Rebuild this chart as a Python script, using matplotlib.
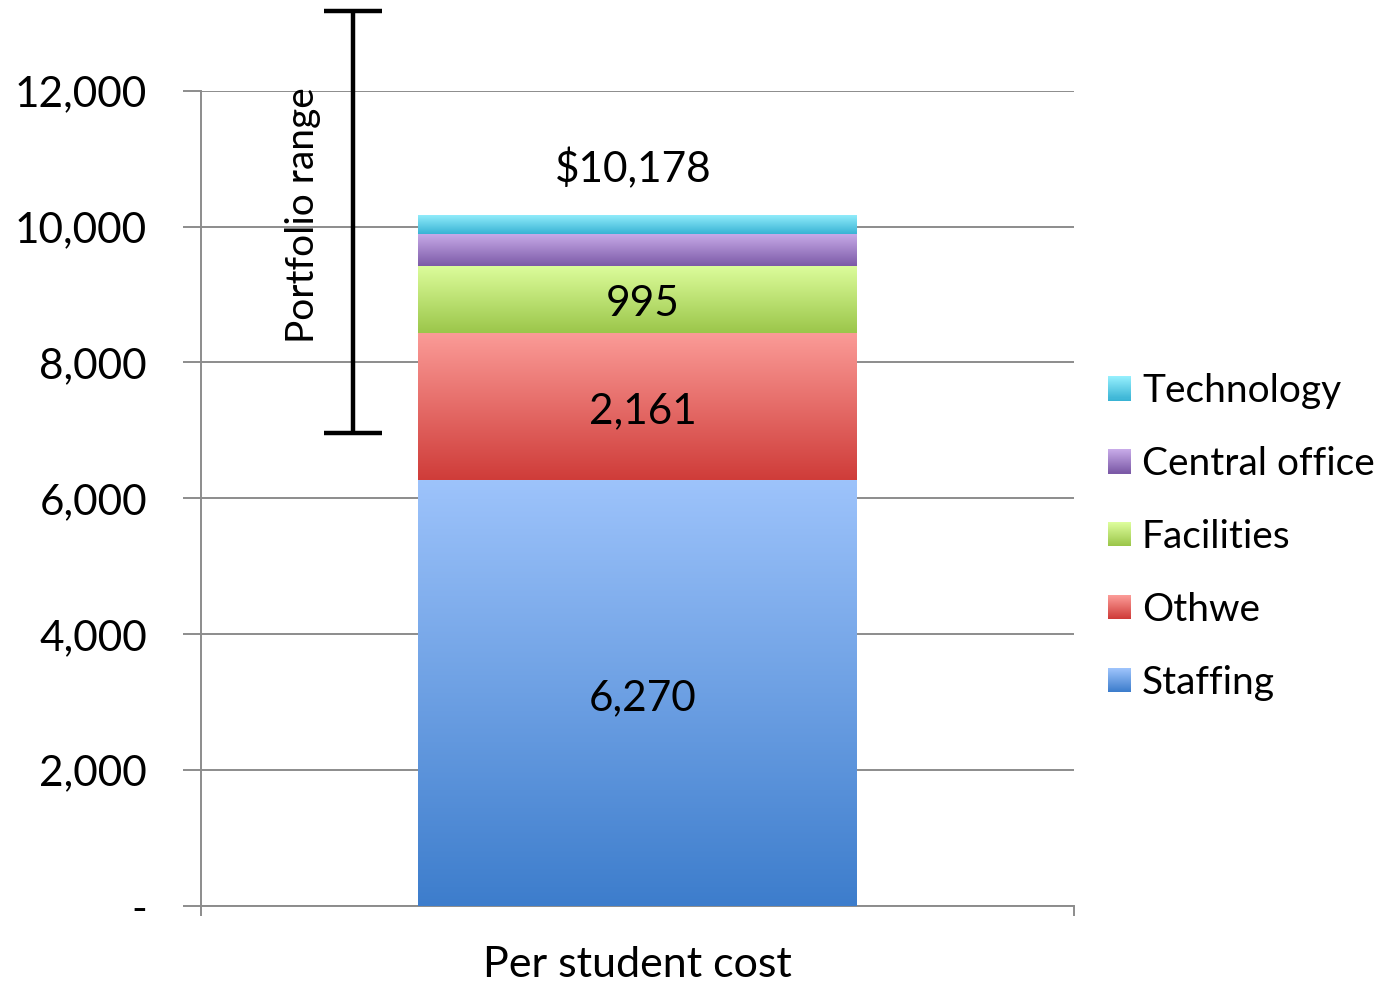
import numpy as np
import matplotlib
matplotlib.use("Agg")
import matplotlib.pyplot as plt
from matplotlib.colors import LinearSegmentedColormap
from matplotlib.legend_handler import HandlerBase
from matplotlib.patches import Rectangle

plt.rcParams["font.family"] = ["Lato", "DejaVu Sans"]

# ── Data ──────────────────────────────────────────────────────────────────
category = ["Per student cost"]
segments = ["Staffing", "Othwe", "Facilities", "Central office", "Technology"]
values = [6270, 2161, 995, 470, 282]
shown_labels = ["6,270", "2,161", "995", "", ""]
total_label = "$10,178"
range_low, range_high = 6960, 13170
yticks = [0, 2000, 4000, 6000, 8000, 10000, 12000]
ytick_labels = ["-", "2,000", "4,000", "6,000", "8,000", "10,000", "12,000"]

# (top colour, bottom colour) per segment
grads = [
    ("#9DC3FB", "#3D7DCC"),
    ("#FB9B97", "#CF3C39"),
    ("#DDFD9C", "#9BC64A"),
    ("#C7AAE8", "#7C5AA7"),
    ("#95EFFD", "#39B3D4"),
]

FS_NUM = 30.5   # numbers on the bar / ticks
FS_LEG = 28
GRID = "#8C8C8C"


class GradHandler(HandlerBase):
    def __init__(self, top, bot, n=24):
        super().__init__()
        self.top, self.bot, self.n = top, bot, n

    def create_artists(self, legend, orig_handle, xdescent, ydescent,
                       width, height, fontsize, trans):
        cmap = LinearSegmentedColormap.from_list("g", [self.bot, self.top])
        arts = []
        h = height / self.n
        for i in range(self.n):
            r = Rectangle((-xdescent, -ydescent + i * h), width, h * 1.05,
                          facecolor=cmap(i / (self.n - 1)), edgecolor="none",
                          transform=trans)
            arts.append(r)
        return arts


fig = plt.figure(figsize=(13.79, 9.85), dpi=100)
ax = fig.add_axes([0.1458, 0.0802, 0.633, 0.8277])

# stacked bars with vertical gradient
bottoms = np.concatenate([[0], np.cumsum(values)[:-1]])
bars = []
for name, v, b, (ctop, cbot) in zip(segments, values, bottoms, grads):
    bc = ax.bar(0, v, bottom=b, width=0.502, color=ctop, label=name,
                zorder=3)
    patch = bc.patches[0]
    x0, y0 = patch.get_x(), patch.get_y()
    cmap = LinearSegmentedColormap.from_list("g", [cbot, ctop])
    grad = np.linspace(0, 1, 256).reshape(-1, 1)
    im = ax.imshow(grad, cmap=cmap, origin="lower", aspect="auto",
                   extent=[x0, x0 + patch.get_width(), y0, y0 + v],
                   zorder=4, interpolation="bilinear")
    im.set_clip_path(patch)
    bars.append(bc)

# segment value labels
for v, b, lab in zip(values, bottoms, shown_labels):
    if lab:
        ax.text(0.006, b + v / 2 - 70, lab, ha="center", va="center",
                fontsize=FS_NUM, color="black", zorder=6)

ax.text(-0.005, sum(values) + 670, total_label, ha="center", va="center",
        fontsize=FS_NUM, color="black", zorder=6)

# portfolio range bar
ax.errorbar(-0.326, (range_low + range_high) / 2,
            yerr=(range_high - range_low) / 2, fmt="none", ecolor="black",
            elinewidth=3.2, capsize=21, capthick=3.2, clip_on=False, zorder=5)
ax.text(-0.383, 10170, "Portfolio range", rotation=90, ha="center",
        va="center", fontsize=FS_LEG, zorder=6)

# axes styling
ax.set_xlim(-0.5, 0.5)
ax.set_ylim(0, 12000)
ax.set_yticks(yticks)
ax.set_yticklabels(ytick_labels, fontsize=FS_NUM)
ax.yaxis.grid(True, color=GRID, linewidth=1.4, zorder=0)
ax.set_axisbelow(True)
ax.tick_params(axis="y", length=13, width=1.4, color=GRID, pad=26)

ax.set_xticks([0])
ax.set_xticklabels(category, fontsize=31)
ax.set_xticks([-0.5, 0.5], minor=True)
ax.tick_params(axis="x", which="major", length=0, pad=29)
ax.tick_params(axis="x", which="minor", length=7, width=1.4, color=GRID)

for s in ["top", "right"]:
    ax.spines[s].set_visible(False)
for s in ["left", "bottom"]:
    ax.spines[s].set_color(GRID)
    ax.spines[s].set_linewidth(1.4)

# legend, topmost segment first
handles = [b.patches[0] for b in bars][::-1]
handler_map = {h: GradHandler(t, bt) for h, (t, bt) in zip(handles, grads[::-1])}
fig.legend(handles, segments[::-1], handler_map=handler_map,
           loc="center left", bbox_to_anchor=(0.792, 0.455), frameon=False,
           fontsize=FS_LEG, handlelength=0.6, handleheight=0.6,
           handletextpad=0.28, labelspacing=0.95, borderaxespad=0)

fig.savefig("out.png", dpi=100)
